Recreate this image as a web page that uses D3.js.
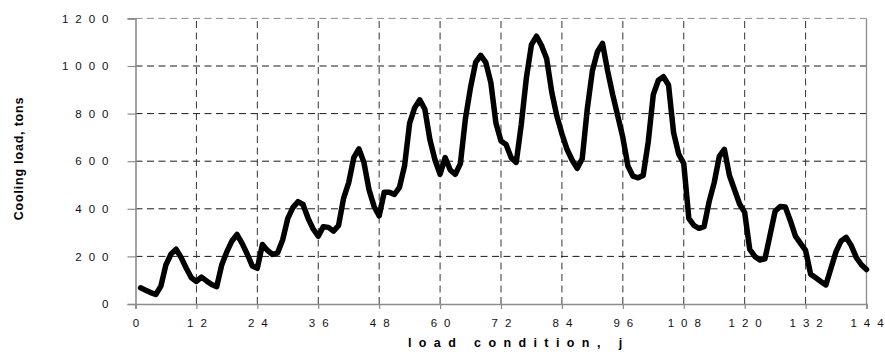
<!DOCTYPE html>
<html>
<head>
<meta charset="utf-8">
<script src="https://cdn.jsdelivr.net/npm/d3@7"></script>
<style>
  html, body { margin: 0; padding: 0; background: #fff; }
  svg { display: block; }
  text { font-family: "Liberation Sans", Arial, sans-serif; }
</style>
</head>
<body>
<svg id="chart" width="885" height="354"></svg>
<script>
// Hourly cooling load for each load condition j = 1..144
const loadCondition = d3.range(1, 145);
const coolingLoad = [
  68, 58, 48, 40, 75, 165, 210, 230, 195, 150, 110, 95,
  113, 97, 82, 73, 165, 220, 265, 292, 255, 210, 160, 150,
  250, 225, 208, 215, 270, 360, 405, 430, 418, 360, 315, 285,
  325, 322, 306, 330, 445, 510, 615, 652, 595, 480, 410, 370,
  470, 470, 460, 490, 580, 760, 825, 858, 818, 690, 605, 545,
  615, 563, 545, 590, 780, 910, 1015, 1045, 1015, 930, 760, 685,
  670, 615, 595, 755, 950, 1090, 1125, 1085, 1030, 890, 790, 715,
  650, 605, 570, 610, 820, 980, 1060, 1095, 980, 880, 790, 700,
  580, 537, 530, 540, 680, 880, 940, 955, 920, 720, 630, 590,
  360, 330, 318, 325, 430, 510, 620, 650, 540, 480, 420, 385,
  230, 200, 185, 190, 290, 390, 410, 408, 350, 285, 255, 225,
  125, 110, 95, 80, 150, 220, 265, 280, 245, 195, 165, 145
];
const xTicks = d3.range(0, 145, 12);
const yTicks = d3.range(0, 1201, 200);
const xTitle = "load condition, j";
const yTitle = "Cooling load, tons";

const svg = d3.select("#chart");
const W = 885, H = 354;
const margin = { top: 18.4, right: 18.5, bottom: 50, left: 135.5 };
const x = d3.scaleLinear().domain([0, 144]).range([margin.left, W - margin.right]);
const y = d3.scaleLinear().domain([0, 1200]).range([H - margin.bottom, margin.top]);

const gridDash = "7,4.5";
const axisGray = "#8c8c8c";

// dashed grid
const grid = svg.append("g");
grid.selectAll("line.h").data(yTicks.filter(d => d > 0)).join("line")
  .attr("x1", x(0)).attr("x2", x(144))
  .attr("y1", d => y(d)).attr("y2", d => y(d))
  .attr("stroke", d => d === 1200 ? axisGray : "#1a1a1a")
  .attr("stroke-width", 1)
  .attr("stroke-dasharray", gridDash);
grid.selectAll("line.v").data(xTicks.filter(d => d > 0 && d < 144)).join("line")
  .attr("y1", y(0)).attr("y2", y(1200))
  .attr("x1", d => x(d)).attr("x2", d => x(d))
  .attr("stroke", "#333")
  .attr("stroke-width", 1)
  .attr("stroke-dasharray", gridDash);

// right border of the plot area
svg.append("line")
  .attr("x1", x(144)).attr("x2", x(144))
  .attr("y1", y(0)).attr("y2", y(1200))
  .attr("stroke", axisGray).attr("stroke-width", 1.3);

// axes
const letter = 7;
const yAxis = svg.append("g")
  .attr("transform", `translate(${x(0)},0)`)
  .call(d3.axisLeft(y).tickValues(yTicks).tickSize(8).tickPadding(19).tickFormat(d3.format("d")));
const xAxis = svg.append("g")
  .attr("transform", `translate(0,${y(0)})`)
  .call(d3.axisBottom(x).tickValues(xTicks).tickSize(5).tickPadding(10).tickFormat(d3.format("d")));

// spread the digits of each tick label without a trailing gap after the last one
function spaceDigits(sel) {
  sel.each(function () {
    const t = d3.select(this);
    const s = t.text();
    t.text(null);
    if (s.length > 1) {
      t.append("tspan").style("letter-spacing", letter + "px").text(s.slice(0, -1));
    }
    t.append("tspan").text(s.slice(-1));
  });
}

[yAxis, xAxis].forEach(g => {
  g.select(".domain").attr("stroke", axisGray).attr("stroke-width", 1.6);
  g.selectAll(".tick line").attr("stroke", axisGray).attr("stroke-width", 1.2);
  g.selectAll(".tick text")
    .attr("fill", "#111")
    .attr("font-size", "11.5px")
    .attr("font-family", "Liberation Sans, Arial, sans-serif")
    .call(spaceDigits);
});

// the load curve
const line = d3.line()
  .x((d, i) => x(loadCondition[i]))
  .y(d => y(d))
  .curve(d3.curveLinear);
svg.append("path")
  .datum(coolingLoad)
  .attr("d", line)
  .attr("fill", "none")
  .attr("stroke", "#000")
  .attr("stroke-width", 5.5)
  .attr("stroke-linejoin", "round")
  .attr("stroke-linecap", "round");

// axis titles
const xTitleSpacing = 7.4;
svg.append("text")
  .attr("x", 515 + xTitleSpacing / 2).attr("y", 347)
  .attr("text-anchor", "middle")
  .attr("font-size", "12.5px")
  .attr("font-weight", "bold")
  .style("letter-spacing", xTitleSpacing + "px")
  .text(xTitle);
svg.append("text")
  .attr("transform", `translate(23,${158.5}) rotate(-90)`)
  .attr("text-anchor", "middle")
  .attr("font-size", "12.5px")
  .attr("font-weight", "bold")
  .style("letter-spacing", "0.8px")
  .text(yTitle);
</script>
</body>
</html>
